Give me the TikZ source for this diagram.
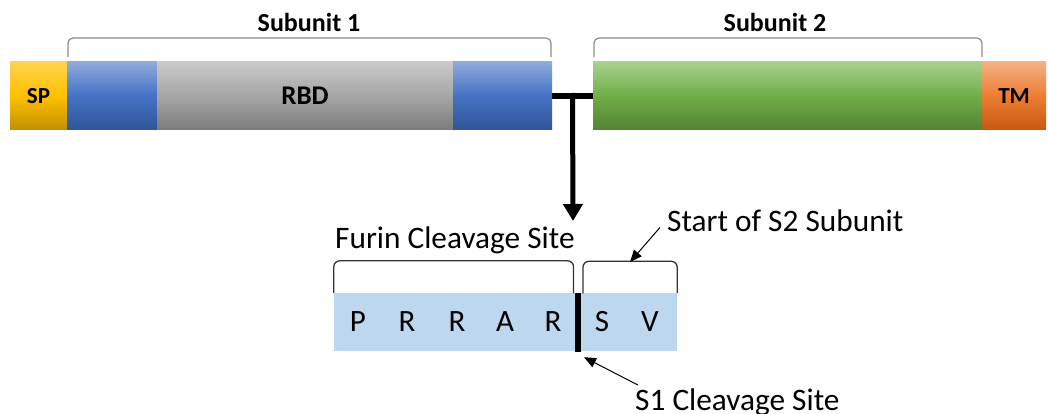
\documentclass[tikz,border=0pt]{standalone}
\usepackage{fontspec}
\setmainfont{Carlito}
\usetikzlibrary{positioning}
\usetikzlibrary{calc}
\usetikzlibrary{arrows.meta}

\definecolor{spT}{HTML}{FFD34F}
\definecolor{spM}{HTML}{FFC000}
\definecolor{spB}{HTML}{BF8F00}
\definecolor{blT}{HTML}{8FAADC}
\definecolor{blM}{HTML}{4472C4}
\definecolor{blB}{HTML}{2F5597}
\definecolor{grT}{HTML}{C9C9C9}
\definecolor{grM}{HTML}{A6A6A6}
\definecolor{grB}{HTML}{7B7B7B}
\definecolor{gnT}{HTML}{A9D18E}
\definecolor{gnM}{HTML}{70AD47}
\definecolor{gnB}{HTML}{548235}
\definecolor{tmT}{HTML}{F4B183}
\definecolor{tmM}{HTML}{ED7D31}
\definecolor{tmB}{HTML}{C55A11}
\definecolor{seqfill}{HTML}{BDD7EE}

\begin{document}
\begin{tikzpicture}
        [x=1pt, y=-1pt,
         seg/.style={inner sep=0pt, outer sep=0pt, minimum height=68pt, font=\bfseries\fontsize{23}{28}\selectfont},
         spbox/.style={seg, top color=spT, bottom color=spB, middle color=spM},
         bluebox/.style={seg, top color=blT, bottom color=blB, middle color=blM},
         graybox/.style={seg, top color=grT, bottom color=grB, middle color=grM},
         greenbox/.style={seg, top color=gnT, bottom color=gnB, middle color=gnM},
         tmbox/.style={seg, top color=tmT, bottom color=tmB, middle color=tmM},
         sublbl/.style={anchor=base, inner sep=0pt, font=\bfseries\fontsize{26}{31}\selectfont},
         topbrace/.style={draw=black!45, line width=1.2pt, rounded corners=5pt},
         lowbrace/.style={draw=black!80, line width=1.3pt, rounded corners=6pt},
         aa/.style={inner sep=0pt, font=\fontsize{31}{37}\selectfont},
         lbl/.style={anchor=base west, inner sep=0pt, font=\fontsize{31.3}{37}\selectfont},
         thinarrow/.style={line width=1pt, -{Triangle[length=12pt, width=10pt]}}]
        \useasboundingbox (0,0) rectangle (1048,414);

        \node [spbox, minimum width=57pt, anchor=north west] (sp) at (10,62) {SP};
        \node [bluebox, minimum width=90pt, right=0pt of sp] (blueL) {};
        \node [graybox, minimum width=296pt, right=0pt of blueL, font=\bfseries\fontsize{27}{32}\selectfont] (rbd) {RBD};
        \node [bluebox, minimum width=99pt, right=0pt of rbd] (blueR) {};
        \node [greenbox, minimum width=389pt, right=41pt of blueR] (s2) {};
        \node [tmbox, minimum width=64pt, right=0pt of s2] (tm) {TM};

        \draw [topbrace] ([xshift=1pt, yshift=5pt]blueL.north west) -- ++(0,-19) -| ([xshift=-1pt, yshift=5pt]blueR.north east);
        \draw [topbrace] ([xshift=1pt, yshift=5pt]s2.north west) -- ++(0,-19) -| ([yshift=5pt]s2.north east);
        \node [sublbl] (sub1) at (309,32) {Subunit 1};
        \node [sublbl] (sub2) at (775,32) {Subunit 2};

        \coordinate (tj) at ($(blueR.east)!0.5!(s2.west)$);
        \coordinate (down) at (573,221);
        \draw [line width=6pt] (blueR.east) -- (s2.west);
        \draw [line width=5pt, -{Triangle[length=17pt, width=19pt]}] ([yshift=3pt]tj) -- (down);

        \node [fill=seqfill, inner sep=0pt, minimum width=343pt, minimum height=58pt] (seq) at (505.5,322) {};
        \node [aa] (p1) at (358,322) {P};
        \node [aa] (r2) at (407,322) {R};
        \node [aa] (r3) at (457,322) {R};
        \node [aa] (a4) at (505,322) {A};
        \node [aa] (r5) at (553,322) {R};
        \node [aa] (s6) at (602,322) {S};
        \node [aa] (v7) at (650,322) {V};
        \node [fill=black, inner sep=0pt, minimum width=5.5pt, minimum height=59pt] (cut) at (578,322.5) {};

        \draw [lowbrace] (seq.north west) -- ++(0,-32) -| ([xshift=-1.5pt, yshift=-0.5pt]cut.north west);
        \draw [lowbrace] ([xshift=2pt, yshift=-0.5pt]cut.north east) -- ++(0,-32) -| (seq.north east);

        \node [lbl] (furin) at (335,248) {Furin Cleavage Site};
        \node [lbl] (start) at (667,231) {Start of S2 Subunit};
        \node [lbl] (s1) at (635,410) {S1 Cleavage Site};

        \coordinate (s2mid) at (630,262);
        \draw [thinarrow] ([xshift=-7pt, yshift=4pt]start.south west) -- (s2mid);
        \draw [thinarrow] ([xshift=3pt, yshift=3pt]s1.north west) -- ([xshift=6pt, yshift=-5pt]cut.south);
    \end{tikzpicture}
\end{document}
